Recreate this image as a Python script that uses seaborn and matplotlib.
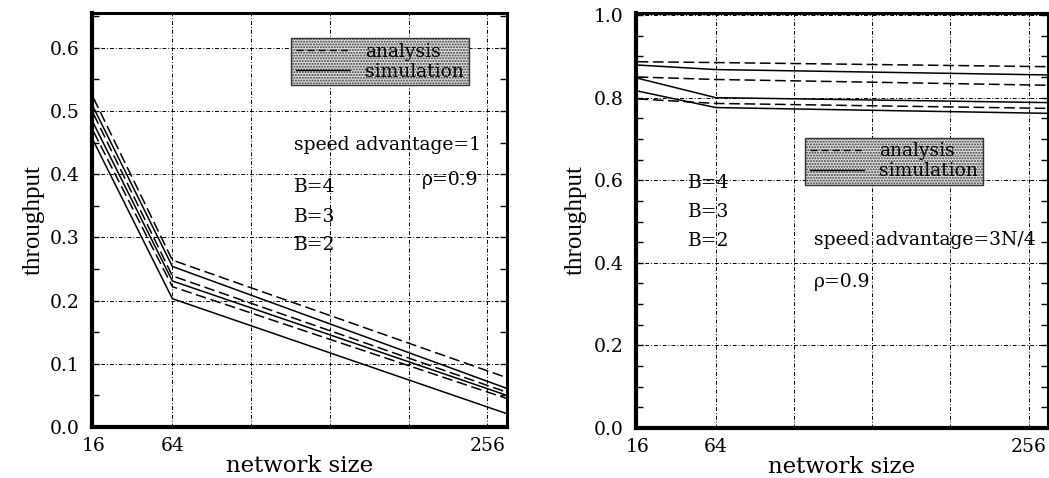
import numpy as np
import pandas as pd
import matplotlib
matplotlib.use("Agg")
import matplotlib.pyplot as plt
import seaborn as sns
from matplotlib.lines import Line2D
from matplotlib.ticker import MultipleLocator, FixedLocator

# ---------------- data ----------------
net_size = [16, 64, 268]

# left panel: speed advantage = 1
left_analysis = {
    "B=4": [0.520, 0.264, 0.078],
    "B=3": [0.495, 0.239, 0.055],
    "B=2": [0.467, 0.222, 0.045],
}
left_simulation = {
    "B=4": [0.505, 0.254, 0.061],
    "B=3": [0.480, 0.231, 0.050],
    "B=2": [0.452, 0.203, 0.021],
}

# right panel: speed advantage = 3N/4
right_analysis = {
    "B=4": [0.887, 0.885, 0.875],
    "B=3": [0.850, 0.844, 0.830],
    "B=2": [0.797, 0.786, 0.774],
}
right_simulation = {
    "B=4": [0.879, 0.868, 0.855],
    "B=3": [0.847, 0.800, 0.788],
    "B=2": [0.816, 0.776, 0.762],
}

x_ticks = [16, 64, 256]
x_grid = [64, 112, 160, 208, 256]

sns.set_theme(style="white")
plt.rcParams["font.family"] = ["DejaVu Serif"]
plt.rcParams.update({"text.color": "black", "axes.labelcolor": "black",
                     "xtick.color": "black", "ytick.color": "black"})

fig = plt.figure(figsize=(10.49, 4.78), dpi=100)
axL = fig.add_axes([0.0877, 0.1067, 0.3956, 0.8661])
axR = fig.add_axes([0.6063, 0.1046, 0.3928, 0.8682])

dash = (0, (7, 3))
FS = 13.5


def draw(ax, analysis, simulation):
    rows = []
    for b, v in analysis.items():
        for x, y in zip(net_size, v):
            rows.append(dict(size=x, thr=y, B=b, kind="analysis"))
    for b, v in simulation.items():
        for x, y in zip(net_size, v):
            rows.append(dict(size=x, thr=y, B=b, kind="simulation"))
    df = pd.DataFrame(rows)
    for (b, kind), g in df.groupby(["B", "kind"]):
        sns.lineplot(data=g, x="size", y="thr", ax=ax, color="black",
                     linewidth=1.1, linestyle=dash if kind == "analysis" else "-",
                     legend=False)


def style(ax, ymax, ymajor):
    ax.set_xlim(15, 268)
    ax.set_ylim(0, ymax)
    ax.xaxis.set_major_locator(FixedLocator(x_ticks))
    ax.xaxis.set_minor_locator(FixedLocator(x_grid))
    ax.yaxis.set_major_locator(MultipleLocator(ymajor))
    ax.yaxis.set_minor_locator(MultipleLocator(0.05))
    ax.grid(False)
    for xv in x_grid:
        ax.axvline(xv, color="black", lw=0.7, ls=(0, (4, 2, 1, 2)), zorder=0)
    for yv in np.arange(ymajor, ymax, ymajor):
        ax.axhline(yv, color="black", lw=0.7, ls=(0, (4, 2, 1, 2)), zorder=0)
    ax.tick_params(axis="y", which="both", direction="in", left=True, right=True,
                   length=5, width=1, labelsize=FS, pad=9)
    ax.tick_params(axis="x", which="both", direction="in", bottom=False, top=False,
                   labelsize=FS, pad=7)
    ax.yaxis.set_major_formatter(matplotlib.ticker.FormatStrFormatter("%.1f"))
    for side, sp in ax.spines.items():
        sp.set_color("black")
        sp.set_linewidth(3.0 if side in ("left", "bottom") else 2.2)
    ax.set_xlabel("network size", fontsize=16.5, labelpad=0)
    ax.set_ylabel("throughput", fontsize=18, family="Liberation Serif")


def legend(ax, loc_anchor):
    handles = [Line2D([], [], color="black", lw=1.0, ls=(0, (5, 3))),
               Line2D([], [], color="black", lw=1.0, ls="-")]
    leg = ax.legend(handles, ["analysis", "simulation"], loc="upper left",
                    bbox_to_anchor=loc_anchor, fontsize=FS, frameon=True,
                    fancybox=False, handlelength=2.9, handletextpad=0.8,
                    borderpad=0.25, labelspacing=0.12, borderaxespad=0)
    fr = leg.get_frame()
    fr.set_facecolor("#e2e2e2")
    fr.set_edgecolor("#333333")
    fr.set_hatch("......")
    fr.set_linewidth(1.0)
    fr.set_alpha(1)


draw(axL, left_analysis, left_simulation)
style(axL, 0.655, 0.1)
axL.yaxis.set_label_coords(-0.115, 0.5)
legend(axL, (0.48, 0.94))
axL.text(138, 0.446, "speed advantage=1", fontsize=FS, va="center")
axL.text(216, 0.391, "ρ=0.9", fontsize=FS, va="center")
for lab, yv in zip(["B=4", "B=3", "B=2"], [0.380, 0.332, 0.288]):
    axL.text(138, yv, lab, fontsize=FS, va="center")

draw(axR, right_analysis, right_simulation)
style(axR, 1.005, 0.2)
axR.yaxis.set_label_coords(-0.12, 0.5)
legend(axR, (0.41, 0.70))
axR.text(124, 0.455, "speed advantage=3N/4", fontsize=FS, va="center")
axR.text(124, 0.353, "ρ=0.9", fontsize=FS, va="center")
for lab, yv in zip(["B=4", "B=3", "B=2"], [0.593, 0.522, 0.452]):
    axR.text(47, yv, lab, fontsize=FS, va="center")

fig.savefig("out.png", dpi=100)
